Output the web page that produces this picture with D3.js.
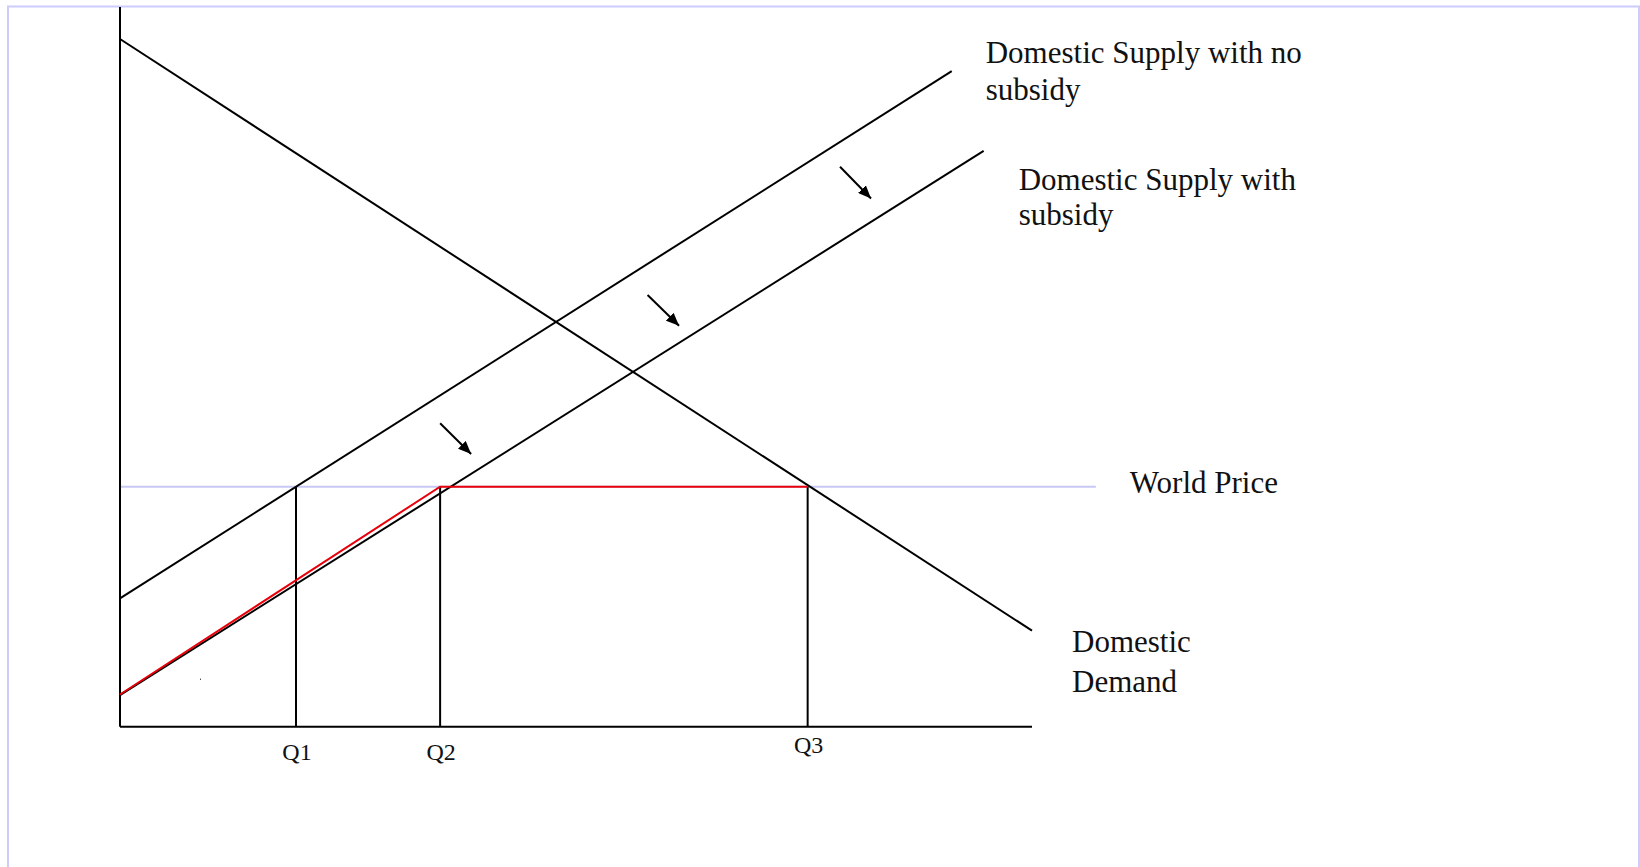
<!DOCTYPE html>
<html>
<head>
<meta charset="utf-8">
<script src="https://cdn.jsdelivr.net/npm/d3@7"></script>
<style>
  body { margin: 0; background: #fff; }
  svg { display: block; }
  text { font-family: "Liberation Serif", "Times New Roman", serif; fill: #111; }
</style>
</head>
<body>
<div id="chart"></div>
<script>
// ---------------------------------------------
// ---------          Data           -----------
// ---------------------------------------------

// quantity / price in chart units (0..100 on both axes)
const qLabels = ["Q1", "Q2", "Q3"];
const qValues = [19.3, 35.1, 75.4];
const worldPrice = 33.35;
const worldPriceEnd = 107;

const demand = [[0, 95.55], [100, 13.34]];
const supplyNoSubsidy = [[0, 17.84], [91.2, 91.1]];
const supplySubsidy = [[0, 4.4], [94.7, 80.0]];
const effectiveSupply = [[0, 4.47], [35.1, 33.35], [75.4, 33.35]];

// shift arrows: [from, to]
const shiftArrows = [
  [[35.1, 42.16], [38.5, 37.9]],
  [[57.85, 59.98], [61.3, 55.7]],
  [[78.95, 77.8], [82.35, 73.4]]
];

const stray = [8.77, 6.67];

// ---------------------------------------------
// ---------         Layout          -----------
// ---------------------------------------------

const W = 1640, H = 867;
const x = d3.scaleLinear().domain([0, 100]).range([120, 1032]);
const y = d3.scaleLinear().domain([0, 100]).range([726.7, 7]);

const svg = d3.select("#chart")
  .append("svg")
    .attr("width", W)
    .attr("height", H);

// frame
svg.append("rect")
  .attr("x", 8)
  .attr("y", 6.5)
  .attr("width", 1631)
  .attr("height", 900)
  .attr("fill", "none")
  .attr("stroke", "#ccccff")
  .attr("stroke-width", 2);

svg.append("defs").append("marker")
    .attr("id", "head")
    .attr("viewBox", "0 0 13 11")
    .attr("refX", 13)
    .attr("refY", 5.5)
    .attr("markerWidth", 13)
    .attr("markerHeight", 11)
    .attr("markerUnits", "userSpaceOnUse")
    .attr("orient", "auto")
  .append("path")
    .attr("d", "M0,0 L13,5.5 L0,11 Z")
    .attr("fill", "#000");

const line = d3.line().x(d => x(d[0])).y(d => y(d[1]));

// world price
svg.append("path")
  .attr("d", line([[0, worldPrice], [worldPriceEnd, worldPrice]]))
  .attr("stroke", "#c8c8f4")
  .attr("stroke-width", 2)
  .attr("fill", "none");

// axes (plain lines, no ticks)
svg.append("path")
  .attr("d", line([[0, 0], [0, 100]]))
  .attr("stroke", "#000")
  .attr("stroke-width", 2);
svg.append("path")
  .attr("d", line([[0, 0], [100, 0]]))
  .attr("stroke", "#000")
  .attr("stroke-width", 2);

// quantity drop lines
svg.selectAll(".qline")
  .data(qValues)
  .join("path")
    .attr("class", "qline")
    .attr("d", d => line([[d, 0], [d, worldPrice]]))
    .attr("stroke", "#000")
    .attr("stroke-width", 2);

// curves
[demand, supplyNoSubsidy, supplySubsidy].forEach(c => {
  svg.append("path")
    .attr("d", line(c))
    .attr("stroke", "#000")
    .attr("stroke-width", 2)
    .attr("fill", "none");
});

svg.append("path")
  .attr("d", line(effectiveSupply))
  .attr("stroke", "#e8000b")
  .attr("stroke-width", 2)
  .attr("fill", "none");

// shift arrows
svg.selectAll(".arrow")
  .data(shiftArrows)
  .join("path")
    .attr("class", "arrow")
    .attr("d", d => line(d))
    .attr("stroke", "#000")
    .attr("stroke-width", 2)
    .attr("marker-end", "url(#head)");

svg.append("rect")
  .attr("x", x(stray[0]))
  .attr("y", y(stray[1]))
  .attr("width", 1)
  .attr("height", 1)
  .attr("fill", "#000");

// ---------------------------------------------
// ---------         Labels          -----------
// ---------------------------------------------

svg.selectAll(".qlabel")
  .data(qLabels)
  .join("text")
    .attr("class", "qlabel")
    .attr("x", (d, i) => x(qValues[i]) + 1)
    .attr("y", (d, i) => i == 2 ? 753.3 : 760)
    .attr("text-anchor", "middle")
    .attr("font-size", 24)
    .text(d => d);

function label(lines, px, py, gap) {
  const t = svg.append("text")
    .attr("x", px)
    .attr("y", py)
    .attr("font-size", 31);
  lines.forEach((s, i) => {
    t.append("tspan")
      .attr("x", px)
      .attr("dy", i == 0 ? 0 : gap)
      .text(s);
  });
}

label(["Domestic Supply with no", "subsidy"],
  x(supplyNoSubsidy[1][0]) + 34, y(supplyNoSubsidy[1][1]) - 8, 36.7);
label(["Domestic Supply with", "subsidy"],
  x(supplySubsidy[1][0]) + 35, y(supplySubsidy[1][1]) + 39, 35);
label(["World Price"],
  x(worldPriceEnd) + 34, y(worldPrice) + 6.6, 0);
label(["Domestic", "Demand"],
  x(demand[1][0]) + 40, y(demand[1][1]) + 21, 40);
</script>
</body>
</html>
